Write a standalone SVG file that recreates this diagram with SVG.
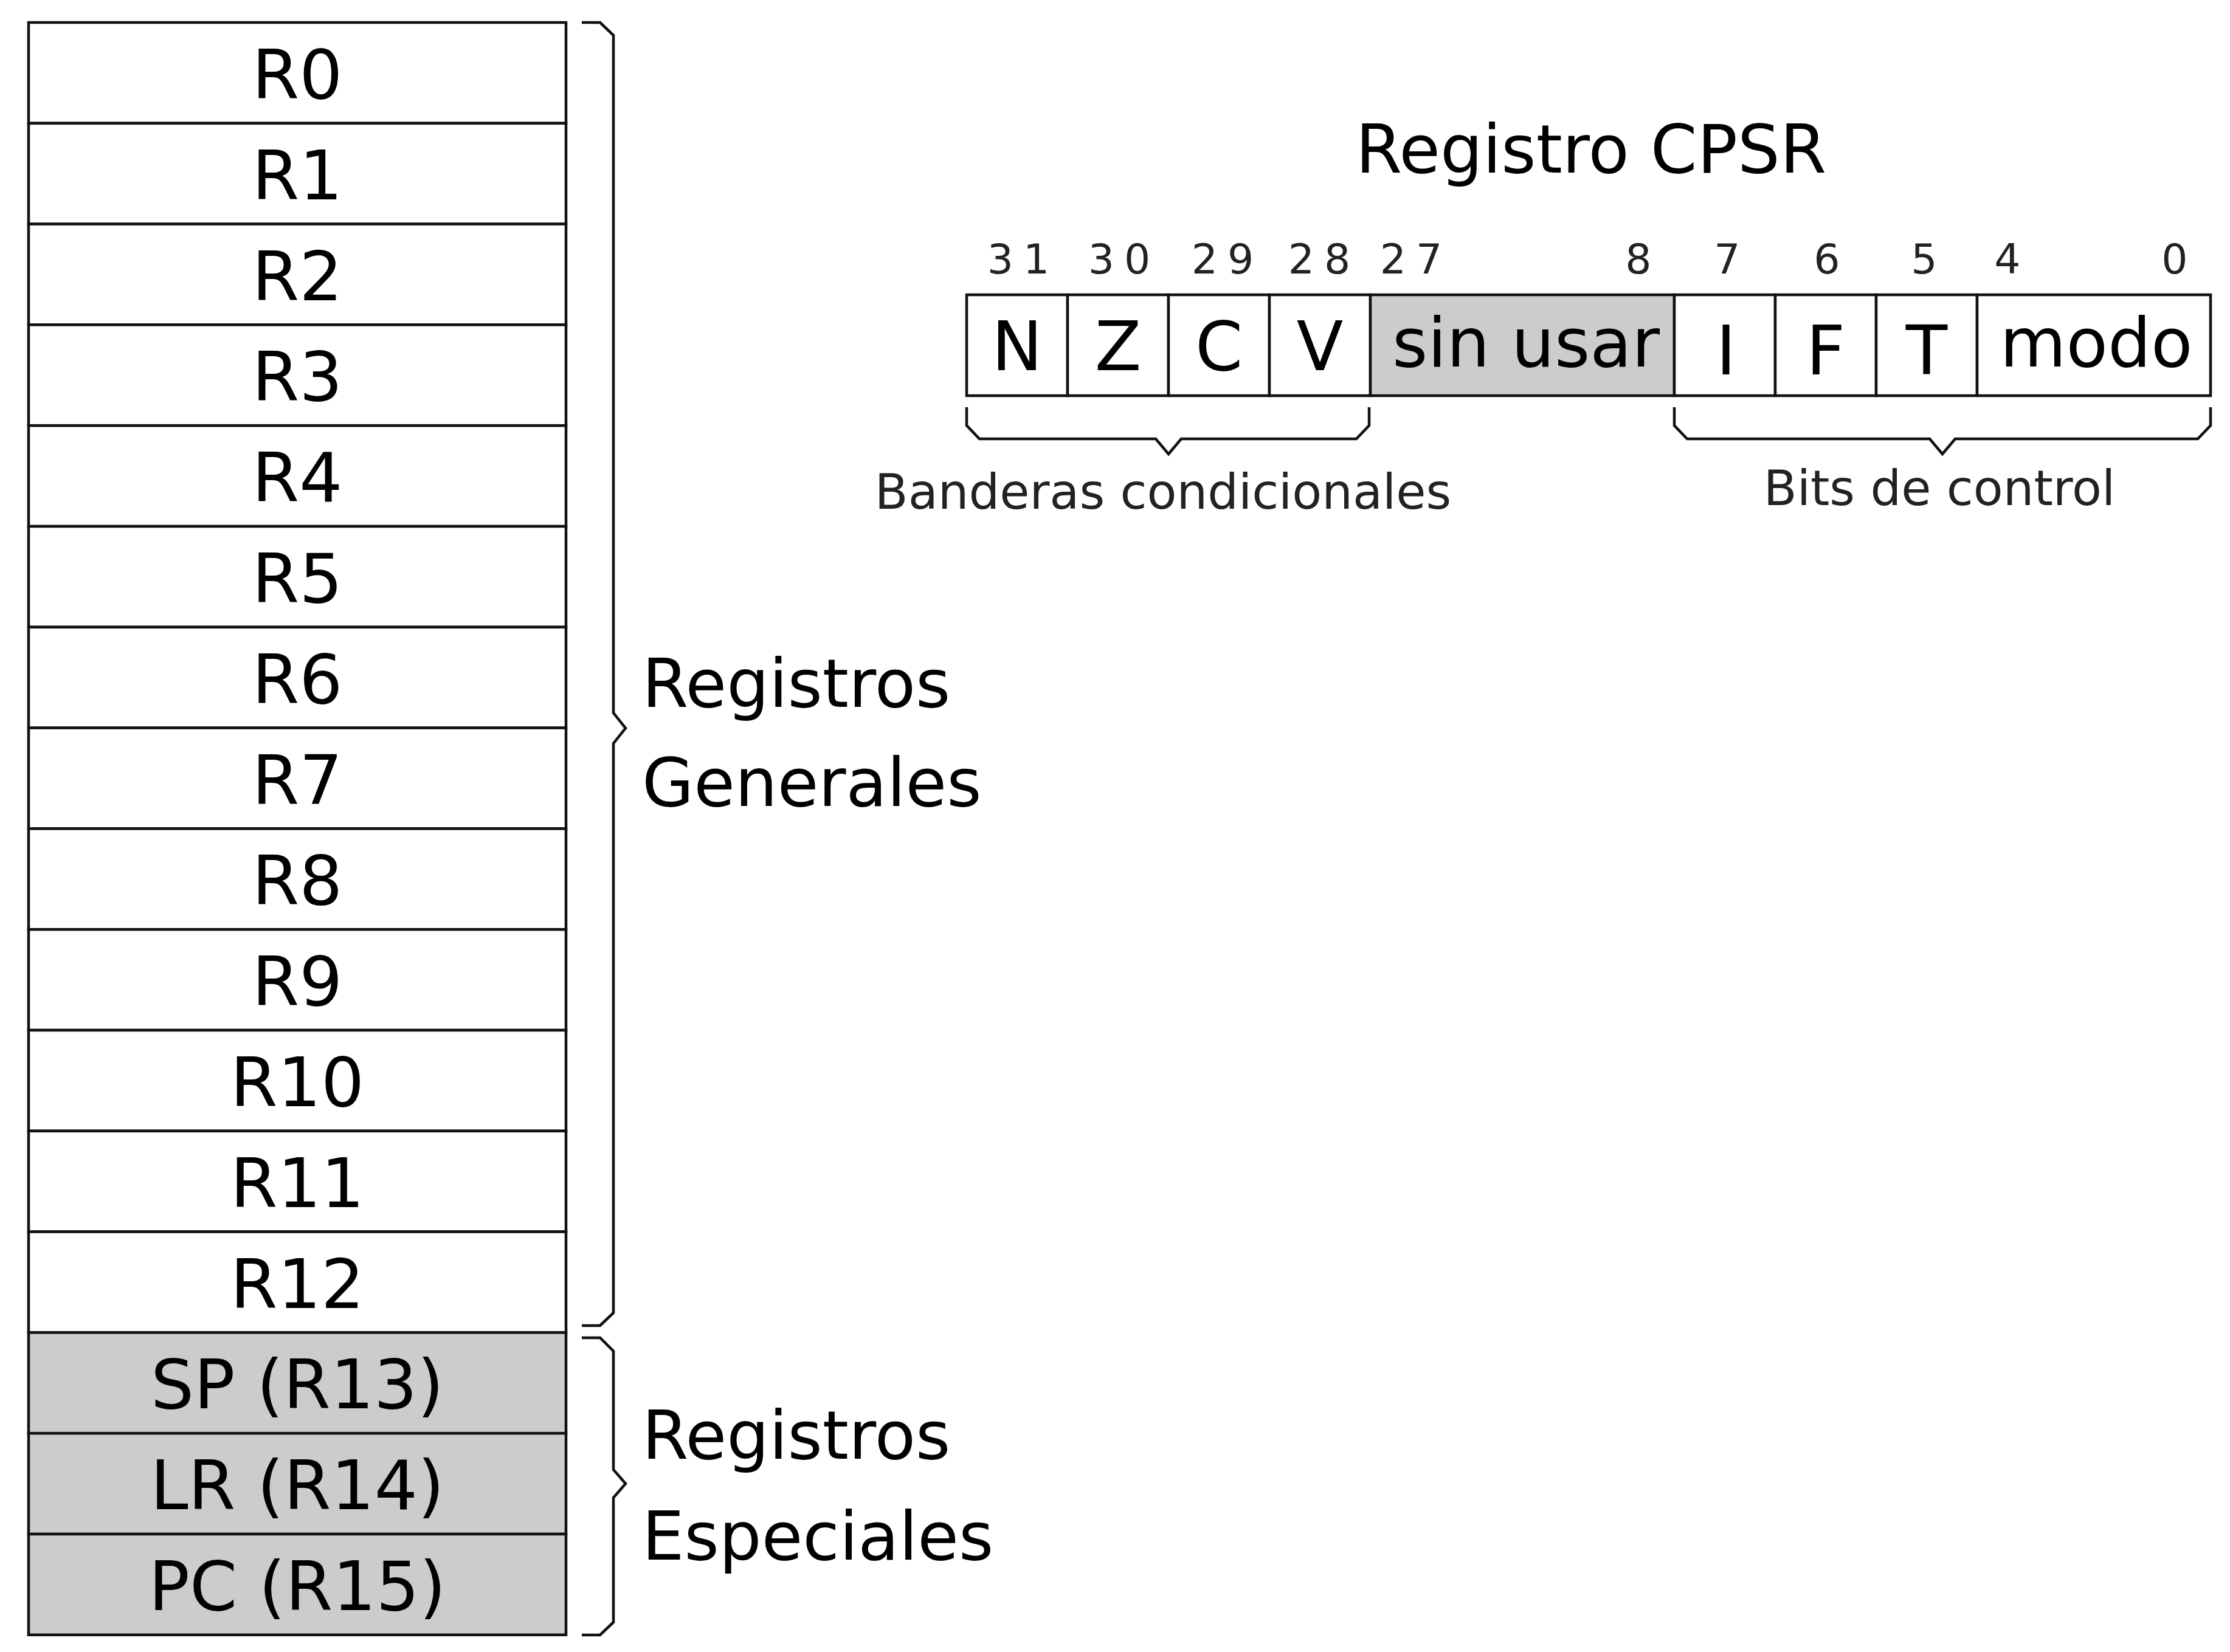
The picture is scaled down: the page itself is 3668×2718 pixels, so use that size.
<svg xmlns="http://www.w3.org/2000/svg" width="3668" height="2718" viewBox="0 0 3668 2718">
<style>
  .cell{fill:#ffffff;stroke:#111;stroke-width:4.5}
  .grey{fill:#cccccc;stroke:#111;stroke-width:4.5}
  .lbl{font-family:"DejaVu Sans",sans-serif;font-size:112px;fill:#000;text-anchor:middle}
  .side{font-family:"DejaVu Sans",sans-serif;font-size:110px;fill:#000}
  .num{font-family:"DejaVu Sans",sans-serif;font-size:68px;fill:#222;text-anchor:middle;letter-spacing:16px}
  .small{font-family:"DejaVu Sans",sans-serif;font-size:80px;fill:#222;text-anchor:middle}
  .brace{fill:none;stroke:#111;stroke-width:4.5;stroke-linejoin:miter}
</style>
<rect width="3668" height="2718" fill="#ffffff"/>
<g id="registros">
  <g id="r0"><rect class="cell" x="47" y="37" width="884" height="165.8"/><text class="lbl" x="489" y="162">R0</text></g>
  <g id="r1"><rect class="cell" x="47" y="202.8" width="884" height="165.8"/><text class="lbl" x="489" y="327.8">R1</text></g>
  <g id="r2"><rect class="cell" x="47" y="368.6" width="884" height="165.8"/><text class="lbl" x="489" y="493.6">R2</text></g>
  <g id="r3"><rect class="cell" x="47" y="534.4" width="884" height="165.8"/><text class="lbl" x="489" y="659.4">R3</text></g>
  <g id="r4"><rect class="cell" x="47" y="700.2" width="884" height="165.8"/><text class="lbl" x="489" y="825.2">R4</text></g>
  <g id="r5"><rect class="cell" x="47" y="866" width="884" height="165.8"/><text class="lbl" x="489" y="991">R5</text></g>
  <g id="r6"><rect class="cell" x="47" y="1031.8" width="884" height="165.8"/><text class="lbl" x="489" y="1156.8">R6</text></g>
  <g id="r7"><rect class="cell" x="47" y="1197.6" width="884" height="165.8"/><text class="lbl" x="489" y="1322.6">R7</text></g>
  <g id="r8"><rect class="cell" x="47" y="1363.4" width="884" height="165.8"/><text class="lbl" x="489" y="1488.4">R8</text></g>
  <g id="r9"><rect class="cell" x="47" y="1529.2" width="884" height="165.8"/><text class="lbl" x="489" y="1654.2">R9</text></g>
  <g id="r10"><rect class="cell" x="47" y="1695" width="884" height="165.8"/><text class="lbl" x="489" y="1820">R10</text></g>
  <g id="r11"><rect class="cell" x="47" y="1860.8" width="884" height="165.8"/><text class="lbl" x="489" y="1985.8">R11</text></g>
  <g id="r12"><rect class="cell" x="47" y="2026.6" width="884" height="165.8"/><text class="lbl" x="489" y="2151.6">R12</text></g>
  <g id="r13"><rect class="grey" x="47" y="2192.4" width="884" height="165.8"/><text class="lbl" x="489" y="2317.4">SP (R13)</text></g>
  <g id="r14"><rect class="grey" x="47" y="2358.2" width="884" height="165.8"/><text class="lbl" x="489" y="2483.2">LR (R14)</text></g>
  <g id="r15"><rect class="grey" x="47" y="2524" width="884" height="165.8"/><text class="lbl" x="489" y="2649">PC (R15)</text></g>
</g>
<g id="etiquetas">
  <g id="generales"><text class="side" x="1056" y="1163">Registros</text><text class="side" x="1056" y="1326">Generales</text></g>
  <g id="especiales"><text class="side" x="1056" y="2400">Registros</text><text class="side" x="1056" y="2566">Especiales</text></g>
</g>
<g id="cpsr">
  <text id="titulo" class="lbl" x="2617" y="284" style="font-size:110px">Registro CPSR</text>
  <g id="bits">
    <text class="num" x="1683" y="450">31</text>
    <text class="num" x="1849" y="450">30</text>
    <text class="num" x="2019" y="450">29</text>
    <text class="num" x="2178" y="450">28</text>
    <text class="num" x="2329" y="450">27</text>
    <text class="num" x="2703" y="450">8</text>
    <text class="num" x="2849" y="450">7</text>
    <text class="num" x="3013" y="450">6</text>
    <text class="num" x="3173" y="450">5</text>
    <text class="num" x="3310" y="450">4</text>
    <text class="num" x="3585" y="450">0</text>
  </g>
  <g id="cN"><rect class="cell" x="1590" y="485" width="166" height="166"/><text class="lbl" x="1673" y="609">N</text></g>
  <g id="cZ"><rect class="cell" x="1756" y="485" width="166" height="166"/><text class="lbl" x="1839" y="609">Z</text></g>
  <g id="cC"><rect class="cell" x="1922" y="485" width="166" height="166"/><text class="lbl" x="2005" y="609">C</text></g>
  <g id="cV"><rect class="cell" x="2088" y="485" width="166" height="166"/><text class="lbl" x="2171" y="609">V</text></g>
  <g id="cSin"><rect class="grey" x="2254" y="485" width="500" height="166"/><text class="lbl" x="2510" y="603">sin usar</text></g>
  <g id="cI"><rect class="cell" x="2754" y="485" width="166" height="166"/><text class="lbl" x="2839" y="616">I</text></g>
  <g id="cF"><rect class="cell" x="2920" y="485" width="166" height="166"/><text class="lbl" x="3003" y="616">F</text></g>
  <g id="cT"><rect class="cell" x="3086" y="485" width="166" height="166"/><text class="lbl" x="3169" y="616">T</text></g>
  <g id="cModo"><rect class="cell" x="3252" y="485" width="384" height="166"/><text class="lbl" x="3448" y="603">modo</text></g>
  <g id="banderas"><text class="small" x="1913" y="837">Banderas condicionales</text></g>
  <g id="control"><text class="small" x="3190" y="831">Bits de control</text></g>
</g>
<g id="connectors">
  <path class="brace" d="M957,37 H987 L1009,58 V1173 L1029,1198 L1009,1223 V2160 L987,2181 H957"/>
  <path class="brace" d="M957,2201 H987 L1009,2223 V2418 L1029,2441 L1009,2464 V2669 L987,2690 H957"/>
  <path class="brace" d="M1590,670 V700 L1611,722 H1901 L1922,747 L1943,722 H2231 L2252,700 V670"/>
  <path class="brace" d="M2754,670 V700 L2775,722 H3174 L3195,747 L3216,722 H3615 L3636,700 V670"/>
</g>
</svg>
